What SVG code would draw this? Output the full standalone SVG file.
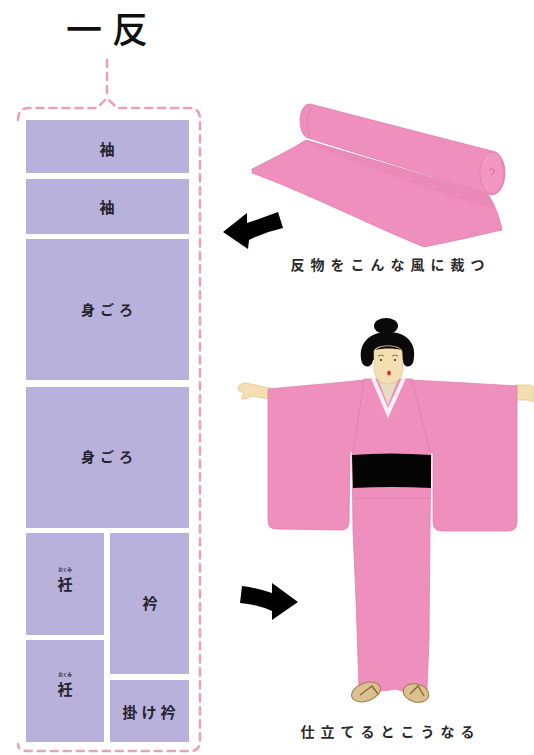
<svg xmlns="http://www.w3.org/2000/svg" width="534" height="755" viewBox="0 0 534 755">
  <style>
    .panel { fill: #b8b1dc; }
    .lbl { font-family: "Noto Sans CJK JP", "Noto Sans CJK SC", sans-serif; font-weight: 700; fill: #25232e; text-anchor: middle; }
    .ruby { font-family: "Noto Sans CJK JP", sans-serif; font-weight: 700; font-size: 4.5px; fill: #25232e; text-anchor: middle; }
    .cap { font-family: "Noto Sans CJK JP", "Noto Sans CJK SC", sans-serif; font-weight: 700; font-size: 14px; letter-spacing: 6px; fill: #2b2b2b; text-anchor: middle; }
    .dash { fill: none; stroke: #e6a3b6; stroke-width: 2.6; stroke-dasharray: 7 6; stroke-linecap: round; }
    .cloth { fill: #ef8fbd; stroke: #dc7aa6; stroke-width: 0.7; }
    .skin { fill: #f4dfb2; stroke: #d8bd8c; stroke-width: 0.6; }
    .arrow { fill: #000; }
  </style>

  <!-- title -->
  <text x="112" y="43" font-family="Noto Sans CJK JP, Noto Sans CJK SC, sans-serif" font-size="36" font-weight="500" letter-spacing="10" text-anchor="middle" fill="#111">一反</text>

  <!-- bracket around the cutting layout -->
  <g id="bracket">
    <path class="dash" d="M107,60 V94"/>
    <path class="dash" d="M18,120 Q18,108 29,108 H97 L107,98 L117,108 H189 Q200,108 200,119 V741 Q200,751 190,751 H29 Q18,751 18,744"/>
  </g>

  <!-- cutting layout panels -->
  <g id="sode1">
    <rect class="panel" x="26" y="120" width="163" height="53"/>
    <text class="lbl" x="107" y="155" font-size="15">袖</text>
  </g>
  <g id="sode2">
    <rect class="panel" x="26" y="179" width="163" height="55"/>
    <text class="lbl" x="107" y="213" font-size="15">袖</text>
  </g>
  <g id="migoro1">
    <rect class="panel" x="26" y="239" width="163" height="141"/>
    <text class="lbl" x="109.5" y="315" font-size="14" letter-spacing="5">身ごろ</text>
  </g>
  <g id="migoro2">
    <rect class="panel" x="26" y="387" width="163" height="141"/>
    <text class="lbl" x="109.5" y="462" font-size="14" letter-spacing="5">身ごろ</text>
  </g>
  <g id="okumi1">
    <rect class="panel" x="26" y="533" width="78" height="102"/>
    <text class="ruby" x="65" y="571">おくみ</text>
    <text class="lbl" x="65" y="590" font-size="15">衽</text>
  </g>
  <g id="okumi2">
    <rect class="panel" x="26" y="640" width="78" height="102"/>
    <text class="ruby" x="65" y="676">おくみ</text>
    <text class="lbl" x="65" y="695" font-size="15">衽</text>
  </g>
  <g id="eri">
    <rect class="panel" x="110" y="533" width="79" height="141"/>
    <text class="lbl" x="150" y="609" font-size="15">衿</text>
  </g>
  <g id="kakeeri">
    <rect class="panel" x="110" y="680" width="79" height="62"/>
    <text class="lbl" x="151" y="718" font-size="15" letter-spacing="4">掛け衿</text>
  </g>

  <!-- bolt of cloth -->
  <g id="bolt">
    <path class="cloth" d="M252,169 C270,160 290,150 306,140 L488,194 C495,205 500,218 502,230 C475,236 450,242 424,247 C370,225 300,190 252,173 Z"/>
    <path d="M310,141 L488,195 C492,201 494,205 496,210 C465,202 400,180 318,148 Z" fill="#e785b3" opacity="0.5"/>
    <path class="cloth" d="M310,104 L492,151 A13,22 0 0 1 492,195 L308,138 A9,17 0 0 1 310,104 Z"/>
    <ellipse cx="492" cy="173" rx="12" ry="21" fill="#f296c2" stroke="#dc7aa6" stroke-width="0.7"/>
    <path d="M489,170 q3,-3 5,0 q1,4 -3,5" fill="none" stroke="#c9608f" stroke-width="0.8"/>
    <path d="M312,108 C306,115 306,128 310,136" fill="none" stroke="#dc7aa6" stroke-width="0.7"/>
    <text class="cap" x="390.5" y="270">反物をこんな風に裁つ</text>
  </g>

  <!-- dressed figure -->
  <g id="figure">
    <!-- hands -->
    <path class="skin" d="M270,388 L246,383 C240,383 236,387 239,391 L244,393 L241,398 C244,401 248,398 251,396 L270,399 Z"/>
    <path class="skin" d="M515,385 L530,385 L534,387 L534,402 L527,400 L515,400 Z"/>
    <!-- sleeves -->
    <path class="cloth" d="M268,389 C300,386 335,383 364,380 L360,448 L350,452 L349,522 Q349,530 341,530 L276,529 Q268,529 268,521 Z"/>
    <path class="cloth" d="M412,380 C450,382 485,384 517,386 L517,522 Q517,531 508,531 L442,531 Q433,531 433,522 L433,453 L420,448 Z"/>
    <!-- body -->
    <path class="cloth" d="M364,379 L412,379 L427,440 L431,455 L430,530 L429,640 L427,690 Q408,694 396,689 Q378,693 359,689 L356,600 L353,530 L352,455 L355,440 Z"/>
    <!-- neck and collar -->
    <path d="M377,377 L399,377 L388,405 Z" fill="#e6dcc2"/>
    <path d="M373,378 L388,413 L404,378" fill="none" stroke="#fcf0f5" stroke-width="4" stroke-linejoin="miter"/>
    <!-- obi -->
    <path d="M352,455 Q390,452 431,455 L431,488 Q392,486 353,488 Z" fill="#050505"/>
    <path d="M355,498 L430,498" stroke="#dc7aa6" stroke-width="0.7"/>
    <!-- head -->
    <ellipse cx="386" cy="326" rx="12" ry="8" fill="#0a0a0a"/>
    <path d="M362,363 C357,345 368,332 388,332 C408,332 418,345 413,363 C409,369 403,367 403,360 L373,360 C372,367 366,369 362,363 Z" fill="#0a0a0a"/>
    <path class="skin" d="M374,351 C376,344 400,344 402,351 L403,368 C403,378 396,384 388,384 C380,384 374,378 374,368 Z"/>
    <path d="M376,350 C380,345 396,345 401,350 C396,348 381,348 376,350 Z" fill="#0a0a0a"/>
    <path d="M378,356 q3,-2 6,0 M392,356 q3,-2 6,0" fill="none" stroke="#6b5a40" stroke-width="0.8"/>
    <circle cx="381" cy="360" r="1.1" fill="#333"/>
    <circle cx="395" cy="360" r="1.1" fill="#333"/>
    <ellipse cx="389" cy="373" rx="1.8" ry="2.6" fill="#d8282e"/>
    <!-- sandals -->
    <ellipse cx="366" cy="692" rx="15" ry="9" transform="rotate(-20 366 692)" fill="#dcc08f" stroke="#9c7d48" stroke-width="1"/>
    <ellipse cx="416" cy="693" rx="13" ry="9" transform="rotate(15 416 693)" fill="#dcc08f" stroke="#9c7d48" stroke-width="1"/>
    <path d="M360,695 L372,686 L378,694 M410,694 L418,686 L424,696" fill="none" stroke="#8a6a38" stroke-width="1.4"/>
    <text class="cap" x="390.5" y="737">仕立てるとこうなる</text>
  </g>

  <!-- connectors -->
  <g id="connectors">
    <path class="arrow" d="M223,232 L247,213 L247,223 Q262,218 278,212 L283,228 Q265,232 249,240 L248,249 Z"/>
    <path class="arrow" d="M298,602 L272,620 L272,611 Q256,604 240,603 L242,586 Q258,588 272,593 L272,583 Z"/>
  </g>
</svg>
